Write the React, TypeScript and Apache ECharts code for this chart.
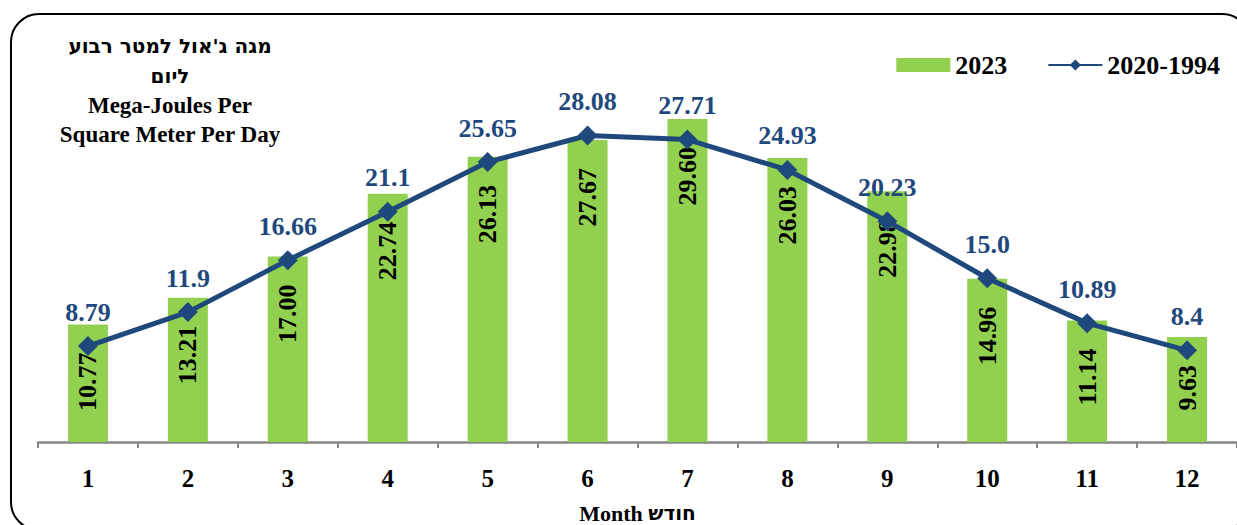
import React, { useEffect, useRef } from "react";
import * as echarts from "echarts";

const months = ["1", "2", "3", "4", "5", "6", "7", "8", "9", "10", "11", "12"];
const values2023 = [10.77, 13.21, 17.0, 22.74, 26.13, 27.67, 29.6, 26.03, 22.98, 14.96, 11.14, 9.63];
const labels2023 = ["10.77", "13.21", "17.00", "22.74", "26.13", "27.67", "29.60", "26.03", "22.98", "14.96", "11.14", "9.63"];
const valuesLongTerm = [8.79, 11.9, 16.66, 21.1, 25.65, 28.08, 27.71, 24.93, 20.23, 15.0, 10.89, 8.4];
const labelsLongTerm = ["8.79", "11.9", "16.66", "21.1", "25.65", "28.08", "27.71", "24.93", "20.23", "15.0", "10.89", "8.4"];
const titleLines = ["מגה ג'אול למטר רבוע", "ליום", "Mega-Joules Per", "Square Meter Per Day"];
const seriesNames = ["2023", "2020-1994"];
const axisNameEn = "Month";
const axisNameHe = "חודש";

const FONT = "'Liberation Serif', 'Times New Roman', serif";
const HEB_FONT = "'DejaVu Sans', 'Liberation Serif', sans-serif";
const GREEN = "#92D050";
const BLUE = "#1F497D";

export default function App() {
  const ref = useRef<HTMLDivElement>(null);
  useEffect(() => {
    if (!ref.current) return;
    const chart = echarts.init(ref.current, null, { renderer: "svg" });
    const titleY = [46, 76, 105, 134];
    chart.setOption({
      animation: false,
      backgroundColor: "#ffffff",
      grid: { left: 38, right: 0, top: 60, bottom: 83, containLabel: false, outerBoundsMode: "none" },
      legend: {
        right: 12,
        top: 47,
        itemGap: 40,
        itemWidth: 54,
        itemHeight: 14,
        textStyle: { fontFamily: FONT, fontSize: 26, fontWeight: "bold", color: "#000" },
        data: [
          { name: seriesNames[0], icon: "rect" },
          { name: seriesNames[1] },
        ],
      },
      xAxis: {
        type: "category",
        data: months,
        axisLine: { show: true, lineStyle: { color: "#868686", width: 2.5 } },
        axisTick: { show: true, length: 6, lineStyle: { color: "#868686", width: 2 } },
        axisLabel: { fontFamily: FONT, fontSize: 25, fontWeight: "bold", color: "#000", margin: 24 },
        name: "{en|" + axisNameEn + "} {he|" + axisNameHe + "}",
        nameLocation: "middle",
        nameGap: 60,
        nameTextStyle: {
          fontFamily: FONT,
          fontSize: 22,
          fontWeight: "bold",
          color: "#000",
          rich: {
            en: { fontFamily: FONT, fontSize: 22, fontWeight: "bold", color: "#000" },
            he: { fontFamily: HEB_FONT, fontSize: 20, fontWeight: "bold", color: "#000" },
          },
        },
      },
      yAxis: {
        type: "value",
        min: 0,
        max: 35,
        show: false,
        splitLine: { show: false },
      },
      graphic: [
        {
          type: "rect",
          shape: { x: 11, y: 14, width: 1239, height: 516, r: 28 },
          style: { fill: "none", stroke: "#000", lineWidth: 2 },
          silent: true,
          z: 0,
        },
        ...titleLines.map((t, i) => ({
          type: "text",
          x: 170,
          y: titleY[i],
          style: {
            text: t,
            fontFamily: i < 2 ? HEB_FONT : FONT,
            fontSize: i < 2 ? 20 : 23,
            fontWeight: "bold",
            fill: "#000",
            textAlign: "center",
            textVerticalAlign: "middle",
          },
        })),
      ],
      series: [
        {
          name: seriesNames[0],
          type: "bar",
          data: values2023,
          barWidth: 40,
          itemStyle: { color: GREEN },
          label: {
            show: true,
            position: "insideTop",
            distance: 28,
            rotate: 90,
            align: "right",
            verticalAlign: "middle",
            fontFamily: FONT,
            fontSize: 26,
            fontWeight: "bold",
            color: "#000",
            formatter: (p: any) => labels2023[p.dataIndex],
          },
          z: 2,
        },
        {
          name: seriesNames[1],
          type: "line",
          data: valuesLongTerm,
          symbol: "diamond",
          symbolSize: 20,
          lineStyle: { color: BLUE, width: 5 },
          itemStyle: { color: BLUE },
          label: {
            show: true,
            position: "top",
            distance: 11,
            fontFamily: FONT,
            fontSize: 26,
            fontWeight: "bold",
            color: BLUE,
            formatter: (p: any) => labelsLongTerm[p.dataIndex],
          },
          z: 3,
        },
      ],
    });
    return () => chart.dispose();
  }, []);
  return (
    <div
      ref={ref}
      style={{ position: "fixed", left: 0, top: 0, width: 1237, height: 525 }}
    />
  );
}
